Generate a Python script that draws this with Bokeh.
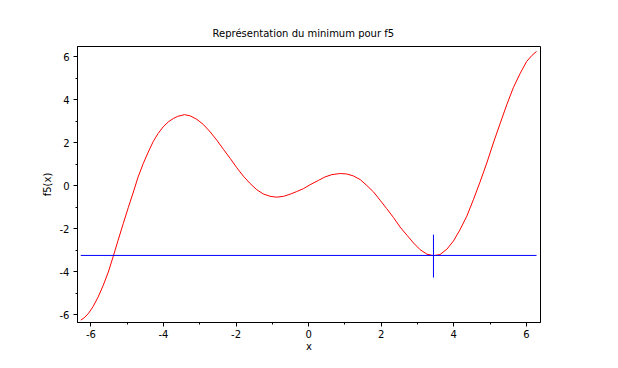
from bokeh.plotting import figure
from bokeh.models import Range1d, SingleIntervalTicker
from bokeh.embed import file_html
from bokeh.resources import INLINE

# Curve (f5 on [-2pi, 2pi])
xs = [-6.28, -6.17, -6.07, -5.94, -5.80, -5.66, -5.52, -5.39, -5.25, -5.11, -4.97,
      -4.83, -4.70, -4.56, -4.42, -4.28, -4.15, -4.01, -3.87, -3.73, -3.61,
      -3.42, -3.26, -3.08, -2.90, -2.71, -2.53, -2.35, -2.16, -1.98,
      -1.80, -1.61, -1.43, -1.25, -1.06, -0.88, -0.69, -0.51, -0.33, -0.14,
      0.04, 0.27, 0.45, 0.64, 0.87, 1.05, 1.23, 1.42, 1.60, 1.79,
      1.97, 2.15, 2.34, 2.52, 2.71, 2.89, 3.07, 3.26, 3.44, 3.62,
      3.81, 3.99, 4.17, 4.36, 4.54, 4.72, 4.91, 5.09, 5.28, 5.46,
      5.64, 5.83, 6.01, 6.15, 6.28]
ys = [-6.26, -6.13, -5.95, -5.63, -5.18, -4.64, -4.02, -3.32, -2.54, -1.77, -1.02,
      -0.30, 0.40, 1.02, 1.56, 2.06, 2.42, 2.73, 2.96, 3.12, 3.22,
      3.30, 3.24, 3.08, 2.84, 2.49, 2.11, 1.69, 1.26, 0.83,
      0.44, 0.09, -0.19, -0.39, -0.50, -0.54, -0.50, -0.40, -0.28, -0.14,
      0.04, 0.24, 0.40, 0.51, 0.56, 0.54, 0.45, 0.28, 0.01, -0.30,
      -0.68, -1.07, -1.49, -1.93, -2.31, -2.67, -2.98, -3.19, -3.26, -3.21,
      -2.96, -2.58, -2.06, -1.42, -0.66, 0.15, 1.05, 1.98, 2.90, 3.76,
      4.55, 5.22, 5.78, 6.05, 6.24]

# Minimum marker
x_min = 3.44
f_min = -3.25
h_line_x = [-6.28, 6.28]
v_line_y = [-2.28, -4.28]

tick_values = [-6, -4, -2, 0, 2, 4, 6]
tick_labels = ["-6", "-4", "-2", "0", "2", "4", "6"]

title_text = "Représentation du minimum pour f5"
x_label = "x"
y_label = "f5(x)"

p = figure(width=618, height=368, output_backend="svg", toolbar_location=None,
           x_range=Range1d(-6.37, 6.39), y_range=Range1d(-6.37, 6.47),
           min_border_left=77, min_border_right=78, min_border_top=46,
           min_border_bottom=46)

p.title.text = title_text
p.title.align = "left"
p.title.offset = 135
p.title.text_font = "DejaVu Sans"
p.title.text_font_size = "10px"
p.title.text_font_style = "normal"
p.title.text_color = "black"
p.title.standoff = 16

p.xgrid.visible = False
p.ygrid.visible = False
p.outline_line_color = "black"
p.outline_line_width = 1
p.background_fill_color = "white"
p.border_fill_color = "white"

for ax in (p.xaxis[0], p.yaxis[0]):
    ax.ticker = SingleIntervalTicker(interval=2, num_minor_ticks=2)
    ax.major_label_overrides = {v: s for v, s in zip(tick_values, tick_labels)}
    ax.major_label_text_font = "DejaVu Sans"
    ax.major_label_text_font_size = "10px"
    ax.major_label_text_color = "black"
    ax.axis_label_text_font = "DejaVu Sans"
    ax.axis_label_text_font_size = "10px"
    ax.axis_label_text_font_style = "normal"
    ax.axis_label_text_color = "black"
    ax.axis_line_color = "black"
    ax.major_tick_line_color = "black"
    ax.minor_tick_line_color = "black"
    ax.major_tick_in = 0
    ax.minor_tick_in = 0
    ax.major_tick_out = 4
    ax.minor_tick_out = 2

p.xaxis.axis_label = x_label
p.yaxis.axis_label = y_label
p.xaxis.major_label_standoff = 3
p.yaxis.major_label_standoff = 4
p.xaxis.axis_label_standoff = 0
p.yaxis.axis_label_standoff = 4

p.line(xs, ys, line_color="#ff0000", line_width=1)
p.line(h_line_x, [f_min, f_min], line_color="#0000ff", line_width=1)
p.line([x_min, x_min], v_line_y, line_color="#0000ff", line_width=1)

open("out.html", "w").write(file_html(p, INLINE))
